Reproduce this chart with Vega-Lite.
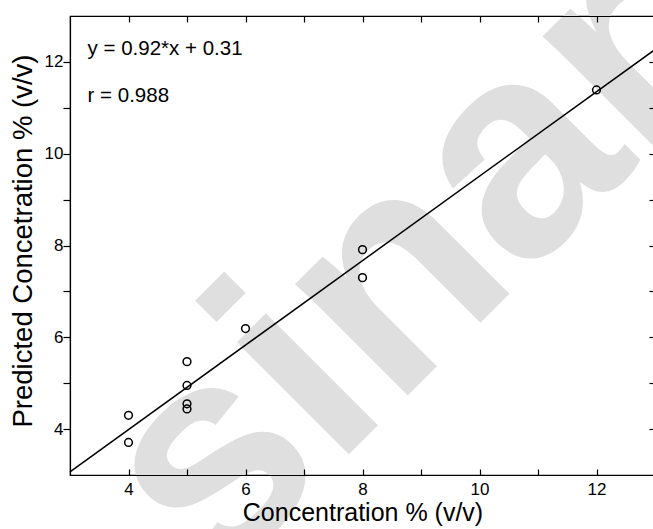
{
  "$schema": "https://vega.github.io/schema/vega-lite/v6.json",
  "width": 585,
  "height": 459,
  "autosize": {"type": "none"},
  "padding": {"left": 70, "top": 16, "right": 0, "bottom": 54},
  "background": "white",
  "config": {
    "font": "Liberation Sans",
    "view": {"stroke": "black", "strokeWidth": 1.2},
    "axis": {
      "domainColor": "black",
      "tickColor": "black",
      "labelColor": "black",
      "titleColor": "black",
      "grid": false,
      "labelFont": "Liberation Sans",
      "titleFont": "Liberation Sans",
      "labelFontSize": 17,
      "titleFontSize": 26,
      "titleFontWeight": "normal",
      "zindex": 1,
      "domainWidth": 1.2,
      "tickWidth": 1.2
    }
  },
  "datasets": {
    "points": [
      {"x": 4, "y": 4.30},
      {"x": 4, "y": 3.71},
      {"x": 5, "y": 5.47},
      {"x": 5, "y": 4.95},
      {"x": 5, "y": 4.55},
      {"x": 5, "y": 4.44},
      {"x": 6, "y": 6.19},
      {"x": 8, "y": 7.91},
      {"x": 8, "y": 7.30},
      {"x": 12, "y": 11.39}
    ],
    "fit": [
      {"x": 3, "y": 3.07},
      {"x": 13, "y": 12.27}
    ],
    "notes": [
      {"x": 3.3, "y": 12.155, "t": "y = 0.92*x + 0.31"},
      {"x": 3.3, "y": 11.137, "t": "r = 0.988"}
    ],
    "watermark": [
      {"x": 9.83, "y": 6.08, "t": "sinar"}
    ]
  },
  "layer": [
    {
      "data": {"name": "watermark"},
      "mark": {"type": "text", "fontSize": 300, "fontWeight": "bold", "font": "Liberation Sans", "angle": 315, "align": "center", "baseline": "alphabetic", "color": "#dfdfdf", "zindex": 0},
      "encoding": {
        "x": {"field": "x", "type": "quantitative", "scale": {"domain": [3, 13], "nice": false, "zero": false}, "axis": null},
        "y": {"field": "y", "type": "quantitative", "scale": {"domain": [3, 13], "nice": false, "zero": false}, "axis": null},
        "text": {"field": "t", "type": "nominal"}
      }
    },
    {
      "data": {"name": "fit"},
      "mark": {"type": "line", "color": "black", "strokeWidth": 1.5, "zindex": 2},
      "encoding": {
        "x": {"field": "x", "type": "quantitative", "axis": null},
        "y": {"field": "y", "type": "quantitative", "axis": null}
      }
    },
    {
      "data": {"name": "points"},
      "mark": {"type": "point", "shape": "circle", "filled": false, "color": "black", "strokeWidth": 1.5, "size": 60, "opacity": 1, "zindex": 2},
      "encoding": {
        "x": {
          "field": "x", "type": "quantitative",
          "axis": {
            "orient": "bottom",
            "zindex": 1,
            "values": [4, 5, 6, 7, 8, 9, 10, 11, 12],
            "labelExpr": "datum.value % 2 == 0 ? datum.label : ''",
            "tickSize": -6,
            "labelPadding": 12,
            "title": "Concentration % (v/v)",
            "titleFontSize": 25,
            "titlePadding": 3
          }
        },
        "y": {
          "field": "y", "type": "quantitative",
          "axis": {
            "orient": "left",
            "zindex": 1,
            "values": [4, 5, 6, 7, 8, 9, 10, 11, 12],
            "labelExpr": "datum.value % 2 == 0 ? datum.label : ''",
            "tickSize": 7,
            "labelPadding": 0,
            "title": "Predicted Concetration % (v/v)",
            "titleFontSize": 27.5,
            "titleY": 224.5,
            "titlePadding": 7
          }
        }
      }
    },
    {
      "data": {"name": "notes"},
      "mark": {"type": "text", "fontSize": 20.5, "align": "left", "baseline": "alphabetic", "color": "black", "zindex": 2},
      "encoding": {
        "x": {"field": "x", "type": "quantitative", "axis": null},
        "y": {"field": "y", "type": "quantitative", "axis": null},
        "text": {"field": "t", "type": "nominal"}
      }
    },
    {
      "data": {"name": "fit"},
      "mark": {"type": "point", "opacity": 0},
      "encoding": {
        "x": {
          "field": "x", "type": "quantitative",
          "axis": {"orient": "top", "zindex": 1, "values": [4, 5, 6, 7, 8, 9, 10, 11, 12], "labels": false, "tickSize": -6, "title": null}
        },
        "y": {
          "field": "y", "type": "quantitative",
          "axis": {"orient": "right", "zindex": 1, "values": [4, 5, 6, 7, 8, 9, 10, 11, 12], "labels": false, "tickSize": -6, "title": null}
        }
      }
    }
  ],
  "resolve": {"axis": {"x": "independent", "y": "independent"}}
}
